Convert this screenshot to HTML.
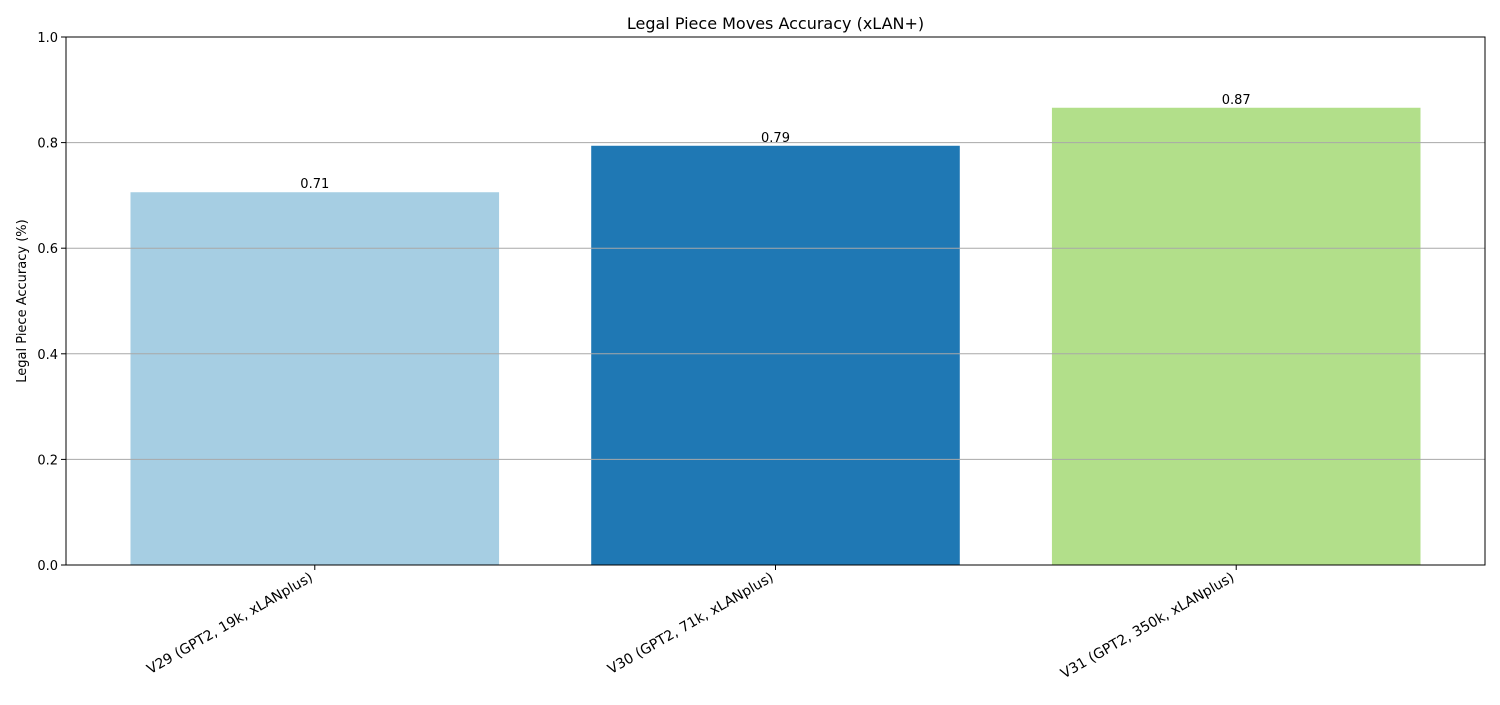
<!DOCTYPE html>
<html><head><meta charset="utf-8"><style>
body{margin:0;background:#fff;font-family:"Liberation Sans","DejaVu Sans",sans-serif}
</style></head><body>
<svg id="chart" width="1500" height="700" xmlns="http://www.w3.org/2000/svg" font-family="DejaVu Sans, Liberation Sans, sans-serif">
<rect width="1500" height="700" fill="#fff"/>
<text x="775.5" y="29" font-size="16" text-anchor="middle">Legal Piece Moves Accuracy (xLAN+)</text>
<text transform="translate(26,301) rotate(-90)" font-size="13" text-anchor="middle">Legal Piece Accuracy (%)</text>
<g id="bars"></g><g id="grid"></g><g id="axes"></g>
</svg>
<script>
const categories=["V29 (GPT2, 19k, xLANplus)","V30 (GPT2, 71k, xLANplus)","V31 (GPT2, 350k, xLANplus)"];
const values=[0.706,0.794,0.866];
const valueLabels=["0.71","0.79","0.87"];
const yTicks=[0,0.2,0.4,0.6,0.8,1.0];
const yTickLabels=["0.0","0.2","0.4","0.6","0.8","1.0"];
const colors=["#a6cee3","#1f78b4","#b2df8a"];
const L=66,R=1485,T=37,B=565;
const xmin=-0.54,xmax=categories.length-1+0.54;
const x=i=>L+(i-xmin)/(xmax-xmin)*(R-L);
const y=v=>B-v*(B-T);
const bw=0.8*(R-L)/(xmax-xmin);
const NS="http://www.w3.org/2000/svg";
function mk(t,a,p){const e=document.createElementNS(NS,t);for(const k in a)e.setAttribute(k,a[k]);p.appendChild(e);return e;}
const bars=document.getElementById('bars'),grid=document.getElementById('grid'),axes=document.getElementById('axes');
values.forEach((v,i)=>{
 const r=mk('rect',{x:x(i)-bw/2,y:y(v),width:bw,height:B-y(v),fill:colors[i]},bars);
 
 
 const t=mk('text',{x:x(i),y:y(v)-4,'font-size':13,'text-anchor':'middle'},bars);t.textContent=valueLabels[i];
 
 
 const tk=mk('line',{x1:x(i),x2:x(i),y1:B,y2:B+5,stroke:'#000'},axes);
 
 
 const lb=mk('text',{transform:`translate(${x(i)-1},${B+15}) rotate(-30)`,'font-size':14,'text-anchor':'end'},axes);lb.textContent=categories[i];
 
 
});
yTicks.forEach((v,i)=>{
 if(v>0&&v<1){const g=mk('line',{x1:L,x2:R,y1:y(v),y2:y(v),stroke:'#a8a8a8','stroke-width':1},grid);
 
 }
 const tk=mk('line',{x1:L-5,x2:L,y1:y(v),y2:y(v),stroke:'#000'},axes);
 
 
 const t=mk('text',{x:L-8,y:y(v)+5,'font-size':13,'text-anchor':'end'},axes);t.textContent=yTickLabels[i];
 
 
});
const f=mk('rect',{x:L,y:T,width:R-L,height:B-T,fill:'none',stroke:'#000','stroke-width':1},axes);


</script>
</body></html>
